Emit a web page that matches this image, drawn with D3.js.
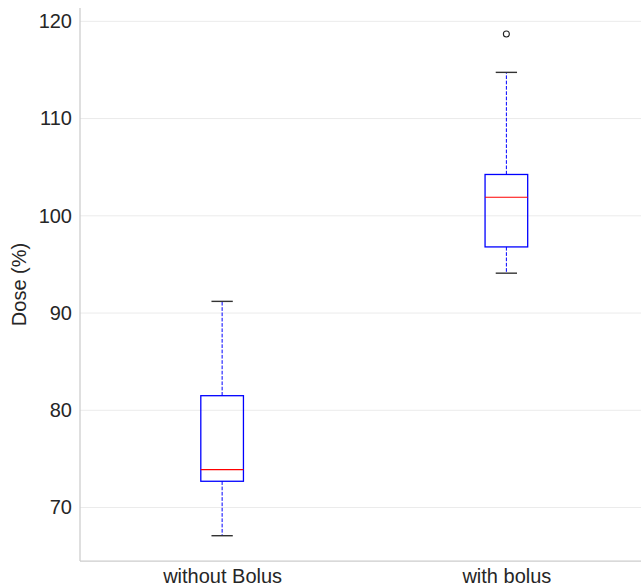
<!DOCTYPE html>
<html><head><meta charset="utf-8">
<script src="https://cdn.jsdelivr.net/npm/d3@7"></script>
<style>body{margin:0;background:#fff}svg{display:block}text{font-family:"Liberation Sans",Arial,sans-serif;fill:#262626}</style>
</head><body><div id="c"></div>
<script>
const categories = ["without Bolus", "with bolus"];
const whiskerLow = [67.1, 94.1];
const q1 = [72.7, 96.8];
const median = [73.9, 101.9];
const q3 = [81.5, 104.25];
const whiskerHigh = [91.2, 114.75];
const outliers = [[], [118.7]];
const yTicks = [70, 80, 90, 100, 110, 120];

const W = 641, H = 586;
const mLeft = 80, mRight = 648.5, mTop = 8, mBottom = 561;
const FS = 20;
const svg = d3.select("#c").append("svg").attr("width", W).attr("height", H);

const y = d3.scaleLinear().domain([64.5, 121.37]).range([mBottom, mTop]);
const x = d3.scaleLinear().domain([0.5, 2.5]).range([mLeft, mRight]);

svg.append("g").selectAll("line").data(yTicks).join("line")
  .attr("x1", mLeft).attr("x2", W).attr("y1", d => y(d)).attr("y2", d => y(d))
  .attr("stroke", "#ebebeb").attr("stroke-width", 1);

const ya = svg.append("g").attr("transform", `translate(${mLeft},0)`)
  .call(d3.axisLeft(y).tickValues(yTicks).tickSize(0).tickPadding(8));
ya.select(".domain").remove();
ya.selectAll("text").attr("font-size", FS).attr("fill", "#262626")
  .style("font-family", '"Liberation Sans",Arial,sans-serif');

const xa = svg.append("g").attr("transform", `translate(0,${mBottom})`)
  .call(d3.axisBottom(x).tickValues([1, 2]).tickFormat((d, i) => categories[i]).tickSize(0).tickPadding(8));
xa.select(".domain").remove();
xa.selectAll("text").attr("font-size", FS).attr("fill", "#262626")
  .style("font-family", '"Liberation Sans",Arial,sans-serif');

svg.append("line").attr("x1", mLeft).attr("x2", mLeft).attr("y1", mTop).attr("y2", mBottom)
  .attr("stroke", "#cccccc").attr("stroke-width", 1.25);
svg.append("line").attr("x1", mLeft).attr("x2", W).attr("y1", mBottom).attr("y2", mBottom)
  .attr("stroke", "#cccccc").attr("stroke-width", 1.25);

svg.append("text").attr("transform", `translate(26,${(mTop + mBottom) / 2}) rotate(-90)`)
  .attr("text-anchor", "middle").attr("font-size", FS).text("Dose (%)");

const bw = 0.15;
const g = svg.append("g");
categories.forEach((c, i) => {
  const p = i + 1;
  const xl = x(p - bw / 2), xr = x(p + bw / 2), xc = x(p);
  const cl = x(p - bw / 4), cr = x(p + bw / 4);
  [[q3[i], whiskerHigh[i]], [q1[i], whiskerLow[i]]].forEach(([a, b]) => {
    g.append("line").attr("x1", xc).attr("x2", xc).attr("y1", y(a)).attr("y2", y(b))
      .attr("stroke", "#0000ff").attr("stroke-width", 1).attr("stroke-dasharray", "3.7,1.6");
  });
  [whiskerHigh[i], whiskerLow[i]].forEach(v => {
    g.append("line").attr("x1", cl).attr("x2", cr).attr("y1", y(v)).attr("y2", y(v))
      .attr("stroke", "#333333").attr("stroke-width", 1.4);
  });
  g.append("rect").attr("x", xl).attr("y", y(q3[i])).attr("width", xr - xl)
    .attr("height", y(q1[i]) - y(q3[i])).attr("fill", "none")
    .attr("stroke", "#0000ff").attr("stroke-width", 1.3);
  g.append("line").attr("x1", xl).attr("x2", xr).attr("y1", y(median[i])).attr("y2", y(median[i]))
    .attr("stroke", "#ff0000").attr("stroke-width", 1.1);
  outliers[i].forEach(v => {
    g.append("circle").attr("cx", xc).attr("cy", y(v)).attr("r", 3)
      .attr("fill", "none").attr("stroke", "#222").attr("stroke-width", 1.1);
  });
});
</script></body></html>
